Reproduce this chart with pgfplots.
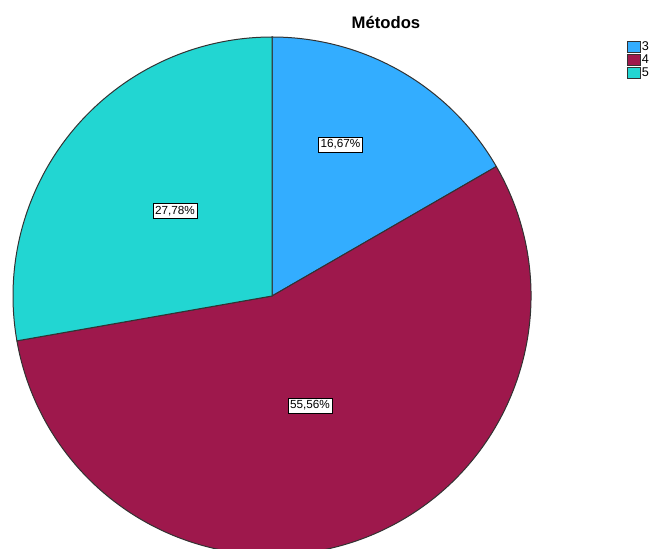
\documentclass[border=0pt]{standalone}
\usepackage{pgfplots}
\pgfplotsset{compat=1.18}
\usepackage{fontspec}
\setmainfont{Liberation Sans}
\definecolor{cA}{RGB}{51,173,255}
\definecolor{cB}{RGB}{158,24,76}
\definecolor{cC}{RGB}{34,214,210}
\definecolor{edge}{RGB}{50,50,50}
\begin{document}
\begin{tikzpicture}
% data: percentages of categories 3, 4, 5
\def\va{16.67}
\def\vb{55.56}
\def\vc{27.78}
\pgfmathsetmacro{\aA}{90}
\pgfmathsetmacro{\aB}{90-3.6*\va}
\pgfmathsetmacro{\aC}{\aB-3.6*\vb}
\pgfmathsetmacro{\aD}{\aC-3.6*\vc}
\def\R{194.25pt}
\begin{axis}[
  scale only axis, width=489.75pt, height=411.75pt,
  xmin=0, xmax=653, ymin=0, ymax=549,
  axis lines=none, ticks=none,
]
\path (axis cs:0,0) rectangle (axis cs:653,549);
\filldraw[fill=cA, draw=edge, line width=0.75pt] (axis cs:272,253) -- ++(\aA:\R) arc[start angle=\aA, end angle=\aB, radius=\R] -- cycle;
\filldraw[fill=cB, draw=edge, line width=0.75pt] (axis cs:272,253) -- ++(\aB:\R) arc[start angle=\aB, end angle=\aC, radius=\R] -- cycle;
\filldraw[fill=cC, draw=edge, line width=0.75pt] (axis cs:272,253) -- ++(\aC:\R) arc[start angle=\aC, end angle=\aD, radius=\R] -- cycle;
\tikzset{lbl/.style={draw=black, fill=white, inner xsep=1.6pt, inner ysep=2pt, line width=0.6pt, font=\fontsize{8.8}{10}\selectfont}}
\node[lbl] at (axis cs:340.5,404.5) {16,67\%};
\node[lbl] at (axis cs:310,143.5) {55,56\%};
\node[lbl] at (axis cs:175,338) {27,78\%};
\node[font=\fontsize{12.5}{14}\selectfont\bfseries] at (axis cs:386,527) {Métodos};
\draw[fill=cA, draw=edge, line width=0.6pt] (axis cs:627,508) rectangle (axis cs:640,497);
\draw[fill=cB, draw=edge, line width=0.6pt] (axis cs:627,495) rectangle (axis cs:640,484);
\draw[fill=cC, draw=edge, line width=0.6pt] (axis cs:627,482) rectangle (axis cs:640,471);
\node[anchor=west, inner sep=0pt, font=\fontsize{9.5}{10}\selectfont] at (axis cs:641.5,502.5) {3};
\node[anchor=west, inner sep=0pt, font=\fontsize{9.5}{10}\selectfont] at (axis cs:641.5,489.5) {4};
\node[anchor=west, inner sep=0pt, font=\fontsize{9.5}{10}\selectfont] at (axis cs:641.5,476.5) {5};
\end{axis}
\end{tikzpicture}
\end{document}
